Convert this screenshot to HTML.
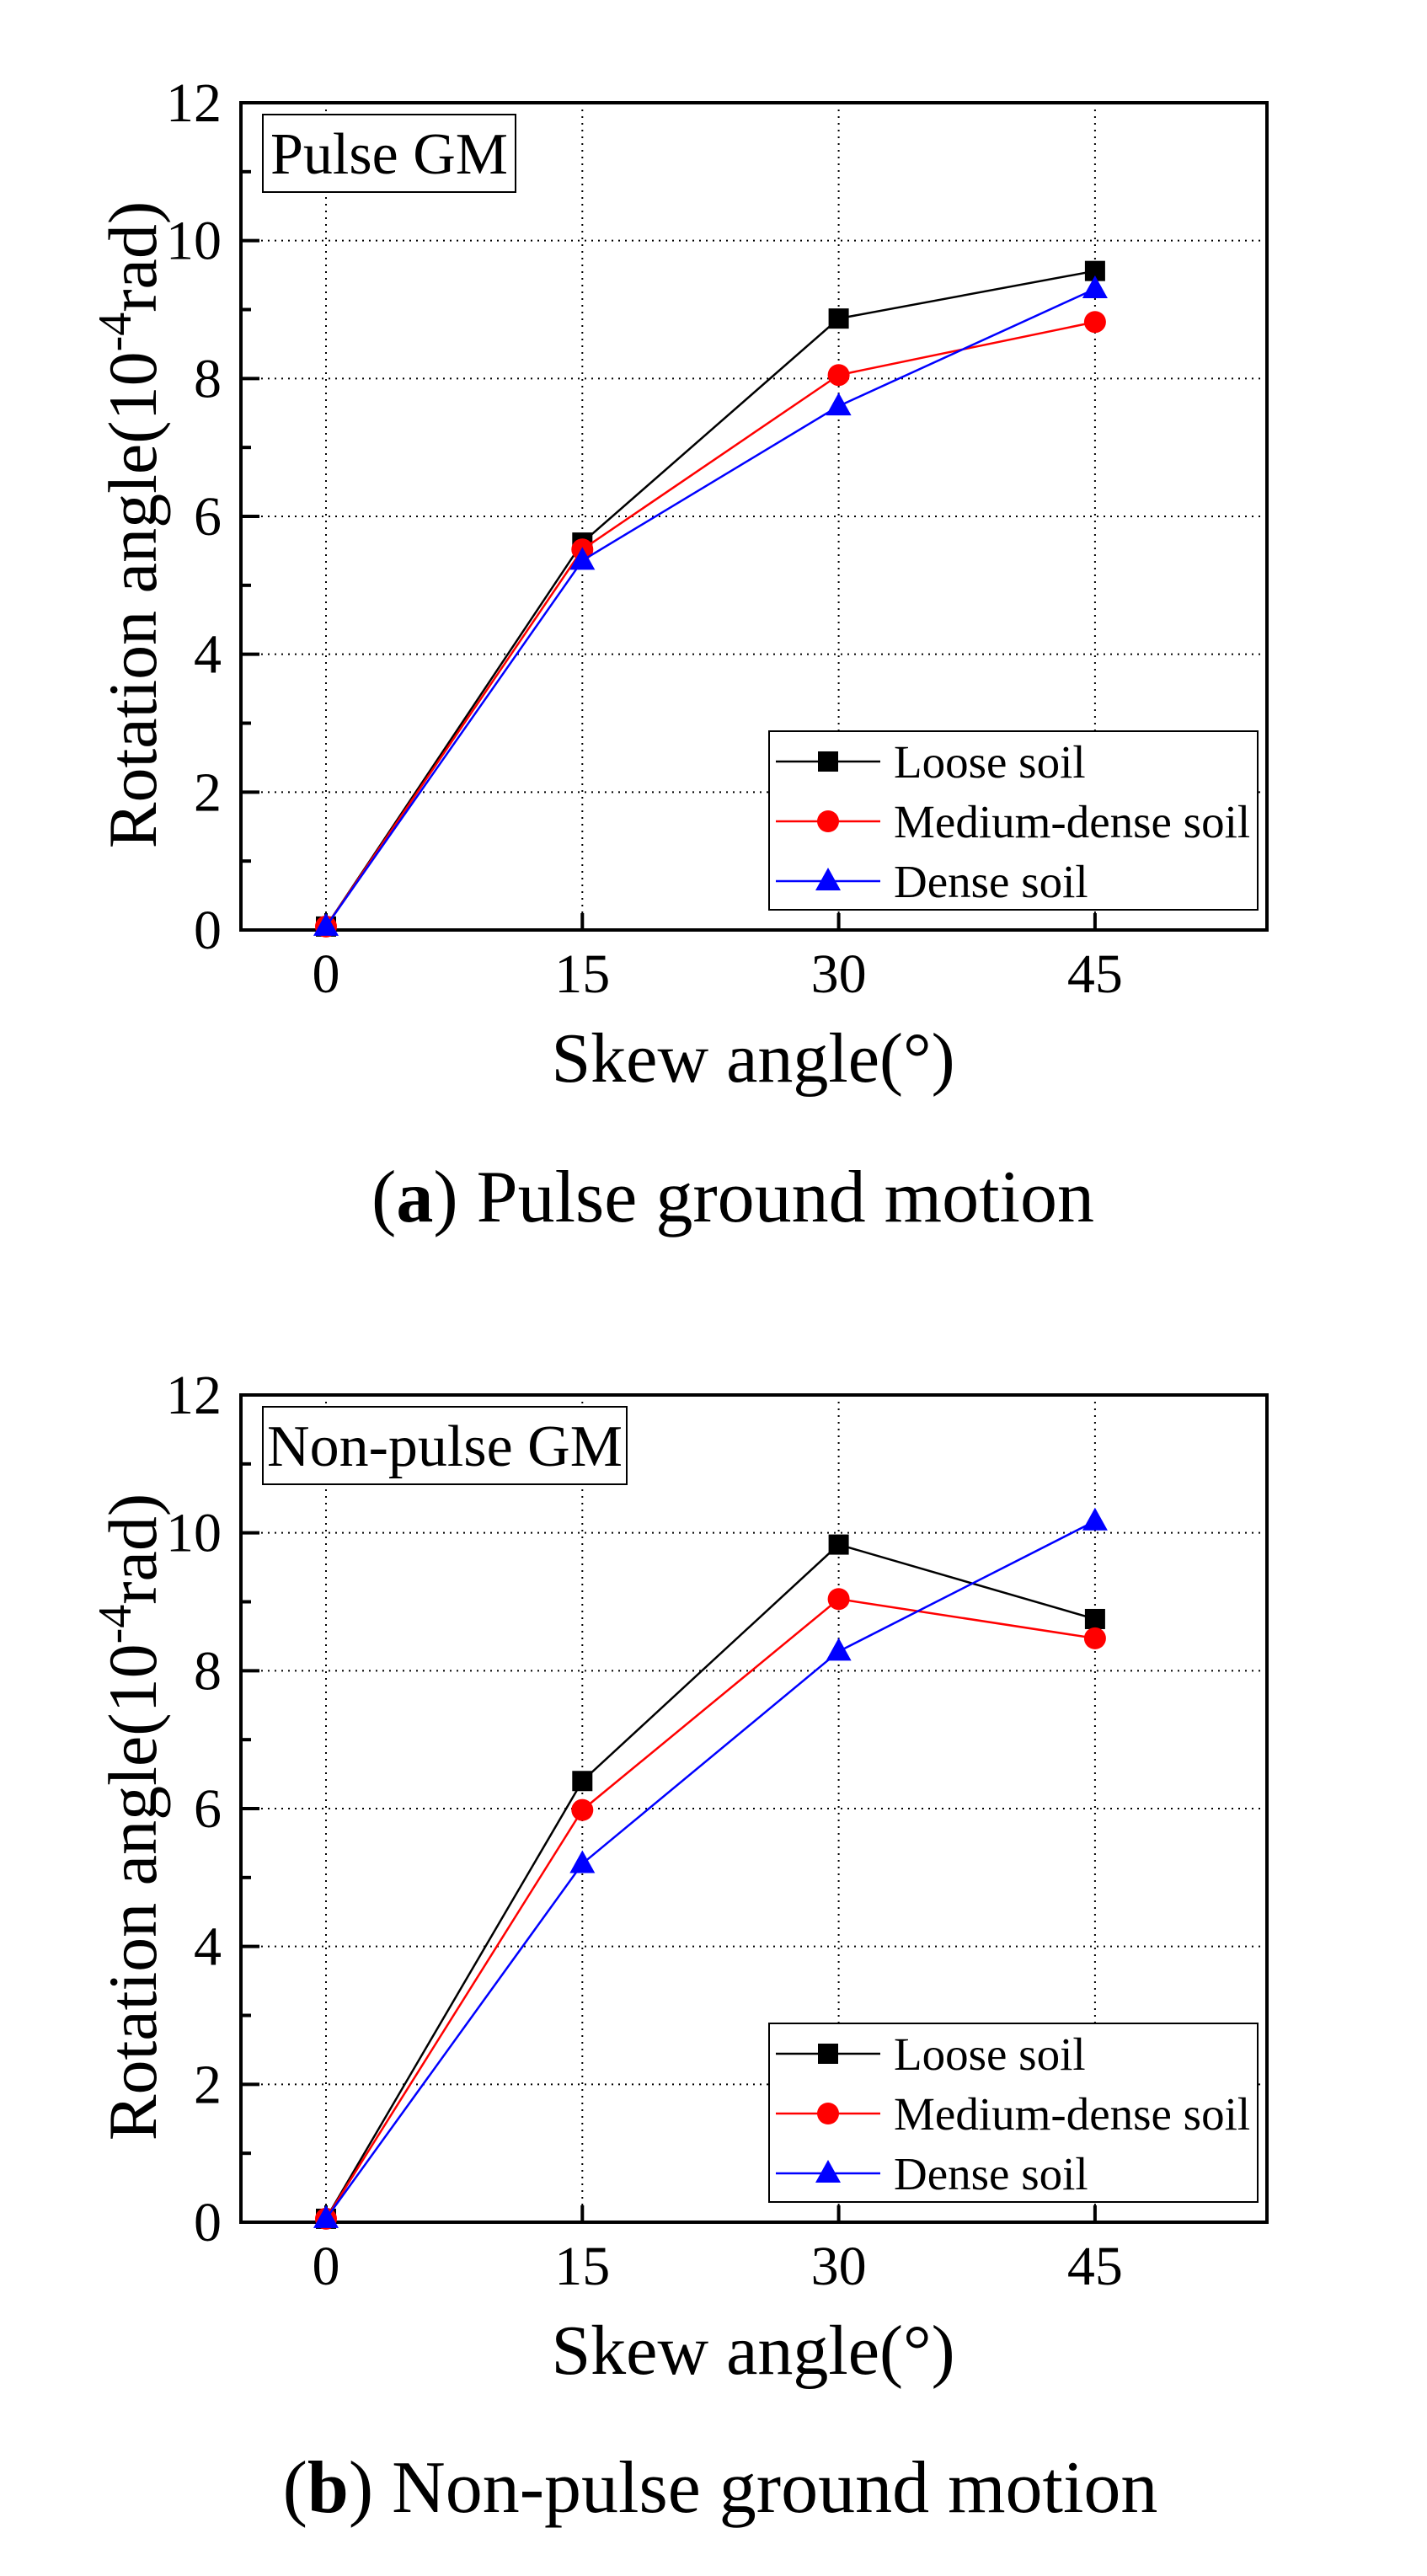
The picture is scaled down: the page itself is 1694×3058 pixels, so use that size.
<!DOCTYPE html>
<html><head><meta charset="utf-8"><style>
body{margin:0;background:#fff;}
svg{display:block;}
text{font-family:"Liberation Serif",serif;fill:#000;}
</style></head><body>
<svg id="fig" width="1694" height="3058" viewBox="0 0 1694 3058" xmlns="http://www.w3.org/2000/svg"></svg>
<script>
const categories = [0, 15, 30, 45];
const yTicks = [0, 2, 4, 6, 8, 10, 12];
const seriesNames = ["Loose soil", "Medium-dense soil", "Dense soil"];
const pulseLoose = [0.05, 5.62, 8.87, 9.56];
const pulseMedium = [0.05, 5.52, 8.05, 8.82];
const pulseDense = [0.05, 5.36, 7.60, 9.30];
const nonPulseLoose = [0.05, 6.40, 9.83, 8.75];
const nonPulseMedium = [0.05, 5.98, 9.04, 8.47];
const nonPulseDense = [0.05, 5.20, 8.28, 10.17];

const NS = "http://www.w3.org/2000/svg";
const fig = document.getElementById('fig');
function mk(tag, attrs, parent) {
  const e = document.createElementNS(NS, tag);
  for (const k in attrs) e.setAttribute(k, attrs[k]);
  (parent || fig).appendChild(e);
  return e;
}
const colors = ["#000000", "#ff0000", "#0000ff"];
const shapes = ["square", "circle", "triangle"];

function marker(g, shape, cx, cy, color) {
  let m;
  if (shape === "square") m = mk('rect', {x: cx - 12, y: cy - 12, width: 24, height: 24, fill: color}, g);
  else if (shape === "circle") m = mk('circle', {cx: cx, cy: cy, r: 13, fill: color}, g);
  else m = mk('polygon', {points: `${cx},${cy - 16} ${cx - 15},${cy + 11} ${cx + 15},${cy + 11}`, fill: color}, g);
  return m;
}

function drawChart(top, label, seriesData, capBold, capRest, capX, capY, boxW, prefix) {
  const L = 286, R = 1504, T = top, B = top + 982;
  const xS = v => 387 + (v / 15) * 304.3;
  const yS = v => B - v * (B - T) / 12;
  const g = mk('g', {});
  
  
  yTicks.forEach(t => {
    if (t > 0 && t < 12) {
      const l = mk('line', {x1: L, x2: R, y1: yS(t), y2: yS(t), stroke: '#000', 'stroke-width': 2, 'stroke-dasharray': '2 6'}, g);
      
      
    }
  });
  categories.forEach(c => {
    const l = mk('line', {x1: xS(c), x2: xS(c), y1: T, y2: B, stroke: '#000', 'stroke-width': 2, 'stroke-dasharray': '2 6'}, g);
    
    
  });
  const fr = mk('rect', {x: L, y: T, width: R - L, height: B - T, fill: 'none', stroke: '#000', 'stroke-width': 4}, g);
  
  
  for (let v = 0; v <= 12; v++) {
    const len = v % 2 === 0 ? 22 : 12;
    const tk = mk('line', {x1: L, x2: L + len, y1: yS(v), y2: yS(v), stroke: '#000', 'stroke-width': 4}, g);
    
    
  }
  yTicks.forEach(t => {
    const tx = mk('text', {x: 263, y: yS(t) + 22, 'font-size': 66, 'text-anchor': 'end'}, g);
    tx.textContent = t;
    
    
  });
  categories.forEach(c => {
    const tk = mk('line', {x1: xS(c), x2: xS(c), y1: B, y2: B - 20, stroke: '#000', 'stroke-width': 4}, g);
    
    
    const tx = mk('text', {x: xS(c), y: B + 74, 'font-size': 66, 'text-anchor': 'middle'}, g);
    tx.textContent = c;
    
    
  });
  const xt = mk('text', {x: 894, y: B + 180, 'font-size': 84, 'text-anchor': 'middle'}, g);
  xt.textContent = 'Skew angle(°)';
  
  
  const yt = mk('text', {x: 0, y: 0, 'font-size': 82, 'text-anchor': 'middle', transform: `translate(185,${(T + B) / 2 + 10}) rotate(-90)`}, g);
  yt.innerHTML = 'Rotation angle(10<tspan dy="-30" font-size="56">-4</tspan><tspan dy="30">rad)</tspan>';
  
  
  const bx = mk('rect', {x: 312, y: T + 14, width: boxW, height: 92, fill: '#fff', stroke: '#000', 'stroke-width': 2}, g);
  
  
  const bt = mk('text', {x: 312 + boxW / 2, y: T + 84, 'font-size': 70, 'text-anchor': 'middle'}, g);
  bt.textContent = label;
  
  
  seriesData.forEach((data, i) => {
    const sg = mk('g', {}, g);
    
    
    const pts = data.map((v, j) => `${xS(categories[j])},${yS(v)}`).join(' ');
    const pl = mk('polyline', {points: pts, fill: 'none', stroke: colors[i], 'stroke-width': 2.5}, sg);
    
    
    data.forEach((v, j) => {
      const m = marker(sg, shapes[i], xS(categories[j]), yS(v), colors[i]);
      
      
    });
  });
  const lg = mk('g', {}, g);
  
  
  const lgTop = T + 746;
  const lb = mk('rect', {x: 913, y: lgTop, width: 580, height: 212, fill: '#fff', stroke: '#000', 'stroke-width': 2}, lg);
  
  
  seriesNames.forEach((n, i) => {
    const cy = lgTop + 36 + i * 71;
    const e = mk('g', {}, lg);
    
    
    mk('line', {x1: 921, x2: 1045, y1: cy, y2: cy, stroke: colors[i], 'stroke-width': 2.5}, e);
    marker(e, shapes[i], 983, cy, colors[i]);
    const t = mk('text', {x: 1061, y: cy + 19, 'font-size': 55}, e);
    t.textContent = n;
  });
  const cp = mk('text', {x: capX, y: capY, 'font-size': 88, 'text-anchor': 'middle'});
  cp.innerHTML = `(<tspan font-weight="bold">${capBold}</tspan>) ${capRest}`;
  
  
}

drawChart(122, 'Pulse GM', [pulseLoose, pulseMedium, pulseDense], 'a', 'Pulse ground motion', 870, 1450, 300, 'pulse');
drawChart(1656, 'Non-pulse GM', [nonPulseLoose, nonPulseMedium, nonPulseDense], 'b', 'Non-pulse ground motion', 855, 2982, 432, 'non-pulse');
</script>
</body></html>
